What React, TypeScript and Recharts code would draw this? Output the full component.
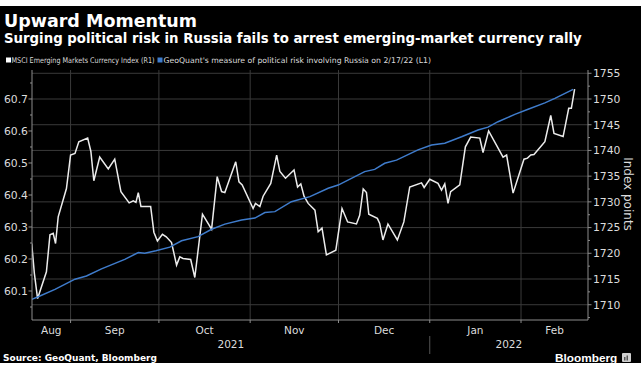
import React from 'react';
import { LineChart, Line, XAxis, YAxis, ReferenceLine } from 'recharts';

// x values are days counted from 1 Sep 2021
const msciDays = [
  -13.2, -12.3, -11.2, -8.2, -7.0, -5.9, -5.1, -4.2, -1.4, 0.0, 1.5, 2.8, 5.8, 6.9, 7.9, 9.9, 12.8, 15.0,
  17.1, 19.9, 21.3, 22.2, 23.0, 23.9, 27.2, 28.3, 29.5, 31.2, 32.5, 34.3, 36.0, 37.1, 38.2, 40.8, 42.2,
  44.8, 47.9, 49.8, 51.3, 52.4, 56.1, 57.2, 58.3, 62.0, 62.8, 64.3, 65.4, 68.0, 70.0, 71.1, 73.0, 75.9,
  77.1, 78.2, 79.3, 80.7, 83.0, 84.1, 85.4, 86.9, 90.1, 92.2, 94.1, 97.1, 98.2, 99.4, 100.5, 101.3, 104.2,
  105.0, 106.1, 107.8, 111.0, 113.2, 115.2, 119.2, 120.1, 122.0, 124.8, 126.0, 127.1, 128.2, 129.1, 132.2,
  134.1, 135.9, 139.0, 140.1, 142.0, 146.9, 148.1, 150.3, 154.0, 155.2, 156.3, 157.4, 161.1, 163.1, 164.2,
  167.3, 169.2, 170.1, 171.2,
];
const msciValues = [
  1721.9, 1716.1, 1711.2, 1716.4, 1723.6, 1723.9, 1721.9, 1727.1, 1732.6, 1739.1, 1739.4, 1741.7, 1742.4,
  1739.8, 1734.1, 1738.7, 1736.4, 1738.3, 1732.0, 1729.8, 1730.2, 1729.9, 1731.8, 1729.1, 1729.1, 1724.1,
  1722.4, 1723.7, 1723.2, 1722.1, 1717.7, 1719.3, 1719.0, 1718.8, 1715.3, 1727.6, 1724.7, 1734.9, 1732.0,
  1731.8, 1737.8, 1733.9, 1733.3, 1728.7, 1729.7, 1729.1, 1731.1, 1733.6, 1739.1, 1735.9, 1734.6, 1736.2,
  1732.9, 1733.5, 1731.1, 1729.7, 1728.4, 1724.2, 1724.9, 1719.7, 1720.6, 1728.7, 1726.1, 1725.7, 1727.4,
  1732.5, 1731.8, 1727.6, 1726.8, 1725.8, 1722.6, 1725.7, 1722.6, 1726.1, 1732.9, 1733.7, 1732.8, 1734.4,
  1733.6, 1732.3, 1733.5, 1729.7, 1732.0, 1733.3, 1740.7, 1742.6, 1742.4, 1739.6, 1743.8, 1738.7, 1739.1,
  1731.7, 1738.3, 1738.5, 1739.1, 1739.2, 1741.7, 1746.8, 1743.3, 1742.7, 1748.2, 1748.2, 1751.9,
];

const geoDays = [
  -13.2, -11.0, -5.3, 1.5, 5.4, 10.5, 18.4, 23.0, 25.2, 29.0, 33.7, 37.7, 43.3, 47.9, 52.4, 58.1, 62.6,
  66.0, 69.4, 75.0, 81.3, 87.5, 90.9, 99.9, 103.3, 106.7, 110.7, 118.0, 122.6, 127.1, 132.8, 138.4, 141.8,
  145.2, 150.9, 155.4, 161.1, 164.5, 170.7,
];
const geoValues = [
  60.074, 60.082, 60.105, 60.137, 60.147, 60.169, 60.199, 60.22, 60.218, 60.226, 60.237, 60.257, 60.27,
  60.293, 60.309, 60.322, 60.328, 60.345, 60.348, 60.379, 60.395, 60.421, 60.431, 60.473, 60.48, 60.499,
  60.509, 60.541, 60.556, 60.562, 60.582, 60.603, 60.612, 60.629, 60.652, 60.668, 60.688, 60.702, 60.73,
];

const monthStarts = [0, 30, 61, 91, 122, 153];
const monthLabels = ['Aug', 'Sep', 'Oct', 'Nov', 'Dec', 'Jan', 'Feb'];
const yearStarts = [122];
const yearLabels = ['2021', '2022'];
const leftMajor = [60.1, 60.2, 60.3, 60.4, 60.5, 60.6, 60.7];
const leftMinor = [60.05, 60.15, 60.25, 60.35, 60.45, 60.55, 60.65, 60.75];
const rightMajor = [1710, 1715, 1720, 1725, 1730, 1735, 1740, 1745, 1750, 1755];
const rightMinor = [1707.5, 1712.5, 1717.5, 1722.5, 1727.5, 1732.5, 1737.5, 1742.5, 1747.5, 1752.5];

const X_MIN = -13.1;
const X_MAX = 175.75;

const msciData = msciDays.map((d, i) => ({ day: d, value: msciValues[i] }));
const geoData = geoDays.map((d, i) => ({ day: d, value: geoValues[i] }));

const bounds = [X_MIN, ...monthStarts, X_MAX];
const monthMids = monthLabels.map((_, i) => (bounds[i] + bounds[i + 1]) / 2);
const yBounds = [X_MIN, ...yearStarts, X_MAX];
const yearMids = yearLabels.map((_, i) => (yBounds[i] + yBounds[i + 1]) / 2);

const FONT = '"DejaVu Sans", sans-serif';
const TEXT = '#dcdcdc';
const AXIS = '#8c8c8c';
const GRID = '#3a3a3a';

const MonthTick = (props: any) => {
  const { x, y, payload } = props;
  const idx = monthMids.indexOf(payload.value);
  if (idx >= 0) {
    return (
      <text x={x} y={y + 14} textAnchor="middle" fill={TEXT} fontSize={10.5} fontFamily={FONT}>
        {monthLabels[idx]}
      </text>
    );
  }
  return <line x1={x} x2={x} y1={y} y2={y + 3} stroke={AXIS} />;
};

const YearTick = (props: any) => {
  const { x, y, payload } = props;
  const idx = yearMids.indexOf(payload.value);
  if (idx >= 0) {
    return (
      <text x={x} y={y + 14} textAnchor="middle" fill={TEXT} fontSize={10.5} fontFamily={FONT}>
        {yearLabels[idx]}
      </text>
    );
  }
  return <line x1={x} x2={x} y1={y + 2} y2={y + 20} stroke="#555" />;
};

const LeftTick = (props: any) => {
  const { x, y, payload } = props;
  const major = leftMajor.includes(payload.value);
  return (
    <g>
      <line x1={x - (major ? 3.5 : 2)} x2={x} y1={y} y2={y} stroke={AXIS} />
      {major && (
        <text x={x - 4} y={y} dy="0.36em" textAnchor="end" fill={TEXT} fontSize={10.8} fontFamily={FONT}>
          {payload.value.toFixed(1)}
        </text>
      )}
    </g>
  );
};

const RightTick = (props: any) => {
  const { x, y, payload } = props;
  const major = rightMajor.includes(payload.value);
  return (
    <g>
      <line x1={x} x2={x + (major ? 3.5 : 2)} y1={y} y2={y} stroke={AXIS} />
      {major && (
        <text x={x + 5} y={y} dy="0.36em" textAnchor="start" fill={TEXT} fontSize={10.8} fontFamily={FONT}>
          {payload.value}
        </text>
      )}
    </g>
  );
};

export default function App() {
  return (
    <div style={{ position: 'absolute', left: 0, top: 0, width: 641, height: 368, background: '#fff', overflow: 'hidden' }}>
      <div style={{ position: 'absolute', left: 0, top: 6, width: 641, height: 357, background: '#000' }} />
      <div style={{ position: 'absolute', left: 0, top: 0 }}>
        <LineChart width={641} height={368} margin={{ top: 70, right: 0, bottom: 10, left: 0 }}>
          <XAxis
            xAxisId="month"
            type="number"
            dataKey="day"
            domain={[X_MIN, X_MAX]}
            allowDataOverflow
            ticks={[...monthStarts, ...monthMids]}
            interval={0}
            height={14}
            tickSize={0}
            tickMargin={0}
            tick={<MonthTick />}
            axisLine={{ stroke: AXIS }}
          />
          <XAxis
            xAxisId="year"
            type="number"
            dataKey="day"
            domain={[X_MIN, X_MAX]}
            allowDataOverflow
            ticks={[...yearStarts, ...yearMids]}
            interval={0}
            height={24}
            tickSize={0}
            tickMargin={0}
            tick={<YearTick />}
            axisLine={false}
          />
          <YAxis
            yAxisId="left"
            orientation="left"
            type="number"
            width={32}
            domain={[60.0094, 60.7906]}
            allowDataOverflow
            ticks={[...leftMajor, ...leftMinor]}
            interval={0}
            tickSize={0}
            tickMargin={0}
            tick={<LeftTick />}
            axisLine={{ stroke: AXIS }}
          />
          <YAxis
            yAxisId="right"
            orientation="right"
            type="number"
            width={53}
            domain={[1707.03, 1755.64]}
            allowDataOverflow
            ticks={[...rightMajor, ...rightMinor]}
            interval={0}
            tickSize={0}
            tickMargin={0}
            tick={<RightTick />}
            axisLine={{ stroke: AXIS }}
          />
          {rightMajor.map((v) => (
            <ReferenceLine key={'h' + v} xAxisId="month" yAxisId="right" y={v} stroke={GRID} />
          ))}
          {monthStarts.map((d) => (
            <ReferenceLine key={'v' + d} xAxisId="month" yAxisId="right" x={d} stroke={GRID} />
          ))}
          <Line
            xAxisId="month"
            yAxisId="right"
            data={msciData}
            dataKey="value"
            type="linear"
            stroke="#ececec"
            strokeWidth={1.5}
            dot={false}
            isAnimationActive={false}
          />
          <Line
            xAxisId="month"
            yAxisId="left"
            data={geoData}
            dataKey="value"
            type="linear"
            stroke="#3f7ccc"
            strokeWidth={1.5}
            dot={false}
            isAnimationActive={false}
          />
        </LineChart>
      </div>
      <svg width={641} height={368} style={{ position: 'absolute', left: 0, top: 0, pointerEvents: 'none' }}>
        <text x={4} y={27} fill="#fff" fontSize={17.5} fontWeight="bold" fontFamily={FONT}>
          Upward Momentum
        </text>
        <text x={4} y={43} fill="#fff" fontSize={13.3} fontWeight="bold" fontFamily={FONT}>
          Surging political risk in Russia fails to arrest emerging-market currency rally
        </text>
        <rect x={6} y={57.5} width={5} height={5} fill="#fff" />
        <text x={11.5} y={63} fill={TEXT} fontSize={7.8} fontFamily='"DejaVu Sans Condensed", "DejaVu Sans", sans-serif' textLength={143} lengthAdjust="spacingAndGlyphs">
          MSCI Emerging Markets Currency Index (R1)
        </text>
        <rect x={157.5} y={57.5} width={5} height={5} fill="#3f7ccc" />
        <text x={163.5} y={63} fill={TEXT} fontSize={7.8} fontFamily='"DejaVu Sans Condensed", "DejaVu Sans", sans-serif' textLength={267.5} lengthAdjust="spacingAndGlyphs">
          GeoQuant's measure of political risk involving Russia on 2/17/22 (L1)
        </text>
        <text x={628} y={194} fill={TEXT} fontSize={12} fontFamily={FONT} textAnchor="middle" dominantBaseline="central" transform="rotate(90 628 194)">
          Index points
        </text>
        <text x={3} y={361} fill="#fff" fontSize={9} fontWeight="bold" fontFamily={FONT}>
          Source: GeoQuant, Bloomberg
        </text>
        <text x={555} y={361.5} fill="#fff" fontSize={11.8} fontWeight="bold" fontFamily='"Liberation Sans", Arial, sans-serif'>
          Bloomberg
        </text>
        <rect x={622} y={353} width={9} height={9} rx={1} fill="#cfcfcf" />
        <rect x={624} y={357} width={1.5} height={3.5} fill="#555" />
        <rect x={626.5} y={355.5} width={1.5} height={5} fill="#555" />
      </svg>
    </div>
  );
}
